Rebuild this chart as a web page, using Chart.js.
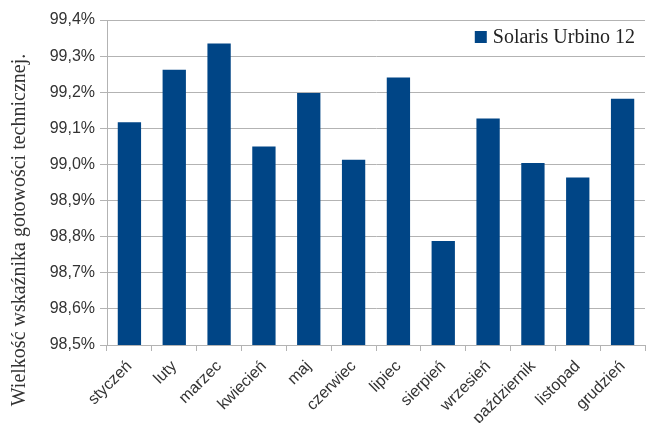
<!DOCTYPE html>
<html>
<head>
<meta charset="utf-8">
<script src="https://cdn.jsdelivr.net/npm/chart.js@4/dist/chart.umd.min.js"></script>
<style>
  body { margin: 0; background: #fff; }
  canvas { display: block; }
</style>
</head>
<body>
<canvas id="wykres" width="647" height="423"></canvas>
<script>
// dane z wykresu
const miesiace = ['styczeń', 'luty', 'marzec', 'kwiecień', 'maj', 'czerwiec',
    'lipiec', 'sierpień', 'wrzesień', 'październik', 'listopad', 'grudzień'];
const gotowosc = [99.117, 99.262, 99.335, 99.050, 99.198, 99.013,
    99.241, 98.788, 99.127, 99.004, 98.964, 99.182];
const nazwaSerii = 'Solaris Urbino 12';
const tytulOsiY = 'Wielkość wskaźnika gotowości technicznej.';
const osY = { min: 98.5, max: 99.4, krok: 0.1 };

const kolory = {
    slupek: '#004586',
    siatka: '#b3b3b3',
    tekst: '#333333'
};
const szeryf = '"Liberation Serif", serif';
const bezszeryf = '"Liberation Sans", sans-serif';

// tytuł osi Y rysowany ręcznie, wyśrodkowany na całej wysokości
const tytulY = {
    id: 'tytulY',
    afterDraw(chart) {
        const ctx = chart.ctx;
        ctx.save();
        ctx.translate(25, 230);
        ctx.rotate(-Math.PI / 2);
        ctx.font = '20px ' + szeryf;
        ctx.fillStyle = kolory.tekst;
        ctx.textAlign = 'center';
        ctx.textBaseline = 'alphabetic';
        ctx.fillText(tytulOsiY, 0, 0);
        ctx.restore();
    }
};

// legenda w prawym górnym rogu obszaru wykresu
const legenda = {
    id: 'legenda',
    afterDatasetsDraw(chart) {
        const ctx = chart.ctx;
        const ds = chart.data.datasets[0];
        const area = chart.chartArea;
        ctx.save();
        ctx.font = '20px ' + szeryf;
        const w = ctx.measureText(ds.label).width;
        const xt = area.right - 10 - w;
        const yc = area.top + 17;
        ctx.fillStyle = ds.backgroundColor;
        ctx.fillRect(xt - 18, yc - 6, 12, 12);
        ctx.fillStyle = '#222';
        ctx.textBaseline = 'middle';
        ctx.fillText(ds.label, xt, yc + 1);
        ctx.restore();
    }
};

new Chart(document.getElementById('wykres'), {
    type: 'bar',
    data: {
        labels: miesiace,
        datasets: [{
            label: nazwaSerii,
            data: gotowosc,
            backgroundColor: kolory.slupek,
            borderWidth: 0,
            barPercentage: 0.52,
            categoryPercentage: 1
        }]
    },
    options: {
        responsive: false,
        animation: false,
        layout: { padding: { top: 20, right: 2, left: 0, bottom: 0 } },
        plugins: {
            tooltip: { enabled: false },
            legend: { display: false }
        },
        scales: {
            x: {
                grid: { display: true, drawOnChartArea: false, color: kolory.siatka, tickLength: 6 },
                border: { color: kolory.siatka },
                ticks: {
                    color: kolory.tekst,
                    font: { family: bezszeryf, size: 16 },
                    minRotation: 45,
                    maxRotation: 45,
                    autoSkip: false,
                    padding: 6
                },
                afterFit(s) { s.height = 78; }
            },
            y: {
                min: osY.min,
                max: osY.max,
                grid: { color: kolory.siatka, tickLength: 7 },
                border: { color: kolory.siatka },
                ticks: {
                    stepSize: osY.krok,
                    color: kolory.tekst,
                    font: { family: bezszeryf, size: 16 },
                    padding: 5,
                    callback: (v) => v.toFixed(1).replace('.', ',') + '%'
                },
                afterFit(s) { s.width = 107; }
            }
        }
    },
    plugins: [tytulY, legenda]
});
</script>
</body>
</html>
